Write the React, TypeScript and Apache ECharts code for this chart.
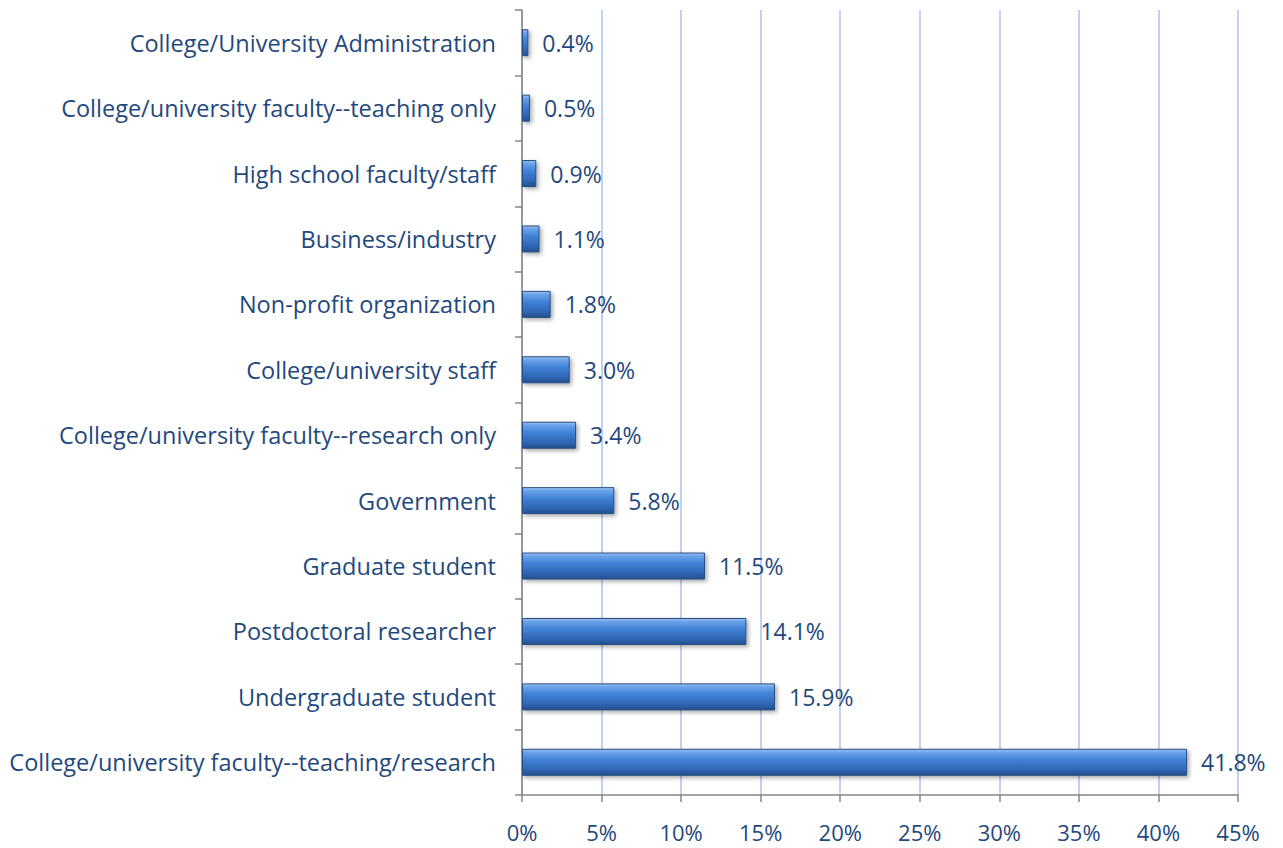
import React, { useEffect, useRef } from "react";
import * as echarts from "echarts";

const categories = [
  "College/University Administration",
  "College/university faculty--teaching only",
  "High school faculty/staff",
  "Business/industry",
  "Non-profit organization",
  "College/university staff",
  "College/university faculty--research only",
  "Government",
  "Graduate student",
  "Postdoctoral researcher",
  "Undergraduate student",
  "College/university faculty--teaching/research",
];
const values = [0.4, 0.5, 0.9, 1.1, 1.8, 3.0, 3.4, 5.8, 11.5, 14.1, 15.9, 41.8];

const TEXT = "#1f497d";
const FONT = "Open Sans";

export default function App() {
  const ref = useRef<HTMLDivElement>(null);
  useEffect(() => {
    const chart = echarts.init(ref.current!, null, { renderer: "svg" });
    chart.setOption({
      animation: false,
      backgroundColor: "#ffffff",
      grid: { left: 522, right: 45, top: 10, bottom: 53, containLabel: false },
      xAxis: {
        type: "value",
        min: 0,
        max: 45,
        interval: 5,
        axisLine: { show: true, lineStyle: { color: "#868686", width: 1.5 } },
        axisTick: { show: true, length: 7, lineStyle: { color: "#868686", width: 1.5 } },
        axisLabel: {
          formatter: "{value}%",
          color: TEXT,
          fontFamily: FONT,
          fontSize: 22,
          margin: 26,
        },
        splitLine: { show: true, lineStyle: { color: "#a9c3ee", width: 1.5 } },
      },
      yAxis: {
        type: "category",
        data: categories,
        inverse: true,
        axisLine: { show: true, lineStyle: { color: "#868686", width: 1.5 } },
        axisTick: { show: true, length: 7, lineStyle: { color: "#868686", width: 1.5 } },
        axisLabel: {
          color: TEXT,
          fontFamily: FONT,
          fontSize: 23.5,
          margin: 26,
        },
        splitLine: { show: false },
      },
      series: [
        {
          type: "bar",
          data: values,
          barWidth: 27,
          itemStyle: {
            color: new echarts.graphic.LinearGradient(0, 0, 0, 1, [
              { offset: 0, color: "#9cc2f0" },
              { offset: 0.12, color: "#6aa2ea" },
              { offset: 0.4, color: "#4082d6" },
              { offset: 0.75, color: "#3168b8" },
              { offset: 1, color: "#24508e" },
            ]),
            borderColor: "#2a4f82",
            borderWidth: 1,
            shadowColor: "rgba(0,0,0,0.35)",
            shadowBlur: 4,
            shadowOffsetX: 2,
            shadowOffsetY: 2,
          },
          label: {
            show: true,
            position: "right",
            distance: 14,
            formatter: (p: any) => p.value.toFixed(1) + "%",
            color: TEXT,
            fontFamily: FONT,
            fontSize: 23,
          },
        },
      ],
    });
    return () => chart.dispose();
  }, []);
  return (
    <div
      ref={ref}
      style={{ position: "fixed", left: 0, top: 0, width: 1283, height: 848, background: "#fff" }}
    />
  );
}
